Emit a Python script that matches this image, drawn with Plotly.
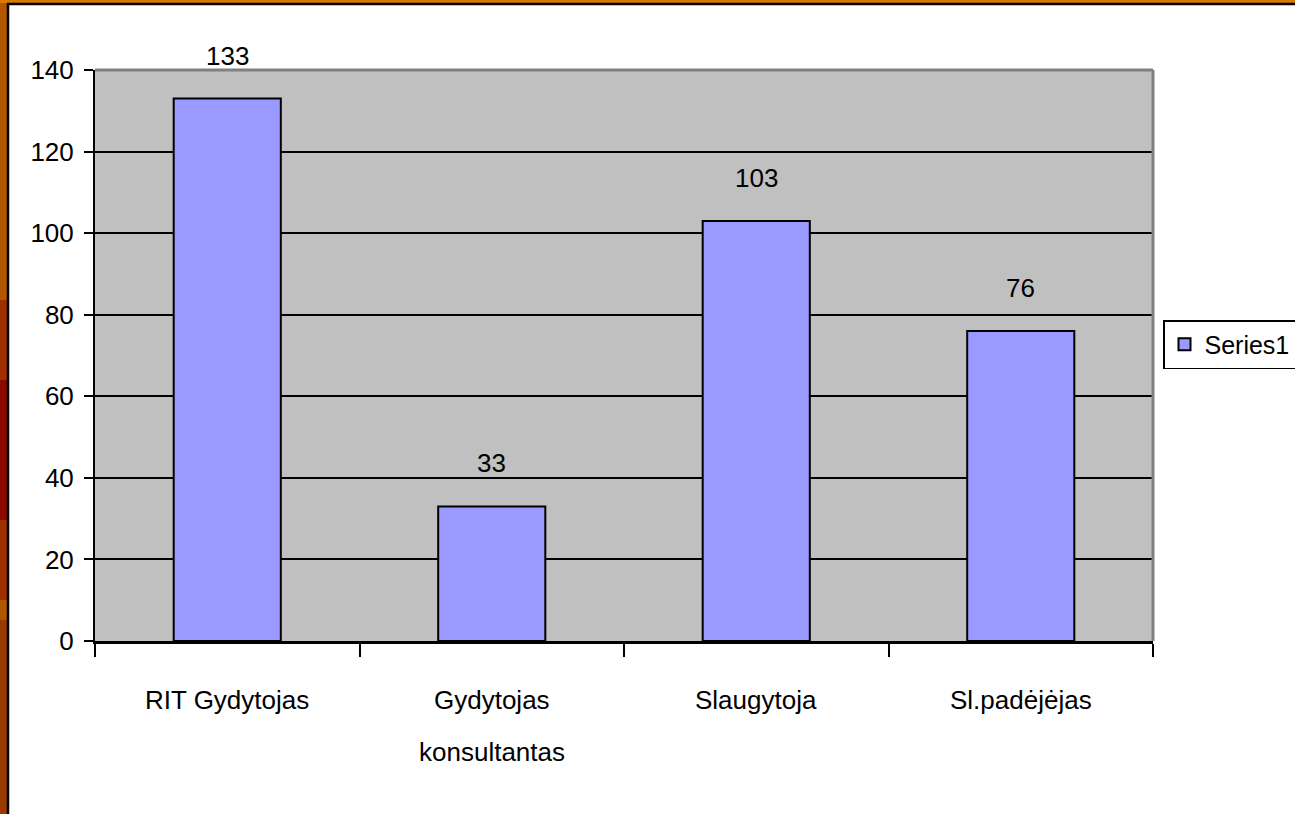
import plotly.graph_objects as go

categories = ["RIT Gydytojas", "Gydytojas<br>konsultantas", "Slaugytoja", "Sl.padėjėjas"]
values = [133, 33, 103, 76]
series_name = "Series1"
y_ticks = [0, 20, 40, 60, 80, 100, 120, 140]

FONT = "Liberation Sans, Arial, sans-serif"
FS = 26
W, H = 1295, 814
L, R, T, B = 95, 142, 70, 173
PW, PH = W - L - R, H - T - B


def px(x):
    return (x - L) / PW


def py(y):
    return (H - B - y) / PH


fig = go.Figure()
fig.add_trace(go.Bar(
    x=categories, y=values, name=series_name,
    marker=dict(color="#9999FF", line=dict(color="black", width=2)),
    width=0.405, showlegend=True,
))

annotations = []
# value labels
for c, v in zip(categories, values):
    annotations.append(dict(x=c, y=v, text=str(v), showarrow=False,
                            yanchor="middle", yshift=43,
                            font=dict(family=FONT, size=FS, color="black")))
# category labels (one annotation per text line, Excel-like spacing)
for c in categories:
    for i, line in enumerate(c.split("<br>")):
        annotations.append(dict(x=c, xref="x", y=0, yref="paper", text=line,
                                showarrow=False, yanchor="middle",
                                yshift=-(59 + 52 * i),
                                font=dict(family=FONT, size=FS, color="black")))

shapes = [
    # left orange strip
    dict(type="rect", xref="paper", yref="paper", x0=px(0), x1=px(7), y0=py(H), y1=py(0),
         fillcolor="#B35600", line=dict(width=0), layer="above"),
    dict(type="rect", xref="paper", yref="paper", x0=px(0), x1=px(7), y0=py(600), y1=py(300),
         fillcolor="#A03000", line=dict(width=0), layer="above"),
    dict(type="rect", xref="paper", yref="paper", x0=px(0), x1=px(7), y0=py(520), y1=py(380),
         fillcolor="#8B0A00", line=dict(width=0), layer="above"),
    dict(type="rect", xref="paper", yref="paper", x0=px(0), x1=px(7), y0=py(H), y1=py(620),
         fillcolor="#9A3A00", line=dict(width=0), layer="above"),
    # top orange strip
    dict(type="rect", xref="paper", yref="paper", x0=px(0), x1=px(W), y0=py(3), y1=py(0),
         fillcolor="#D87A00", line=dict(width=0), layer="above"),
    # black frame lines
    dict(type="line", xref="paper", yref="paper", x0=px(8), x1=px(8), y0=py(H), y1=py(3),
         line=dict(color="black", width=2.5), layer="above"),
    dict(type="line", xref="paper", yref="paper", x0=px(7), x1=px(W), y0=py(4), y1=py(4),
         line=dict(color="black", width=2.5), layer="above"),
    # plot area top and right border (gray)
    dict(type="line", xref="paper", yref="paper", x0=0, x1=1, y0=1, y1=1,
         line=dict(color="#808080", width=3), layer="above"),
    dict(type="line", xref="paper", yref="paper", x0=1, x1=1, y0=0, y1=1,
         line=dict(color="#808080", width=3), layer="above"),
]

fig.update_layout(
    width=W, height=H,
    margin=dict(l=L, r=R, t=T, b=B, autoexpand=False),
    paper_bgcolor="white", plot_bgcolor="#C0C0C0",
    font=dict(family=FONT, size=FS, color="black"),
    shapes=shapes,
    annotations=annotations,
    legend=dict(x=px(1163), y=py(344.5), xanchor="left", yanchor="middle",
                bordercolor="black", borderwidth=1.5, bgcolor="white",
                font=dict(family=FONT, size=25), itemwidth=30),
    showlegend=True,
)
fig.update_xaxes(
    type="category", range=[-0.5, 3.5], tickson="boundaries",
    showgrid=False, ticks="outside", ticklen=13, tickwidth=2, tickcolor="black",
    showline=True, linecolor="black", linewidth=3,
    showticklabels=False,
)
fig.update_yaxes(
    range=[0, 140], tickvals=y_ticks, showgrid=True, gridcolor="black", gridwidth=2,
    ticks="outside", ticklen=9, tickwidth=2, tickcolor="black",
    showline=True, linecolor="black", linewidth=2, zeroline=False,
    ticklabelstandoff=5,
    tickfont=dict(family=FONT, size=FS),
)

fig.write_html("out.html", config={"displayModeBar": False},
               post_script="document.body.style.margin='0';document.body.style.overflow='hidden';")
